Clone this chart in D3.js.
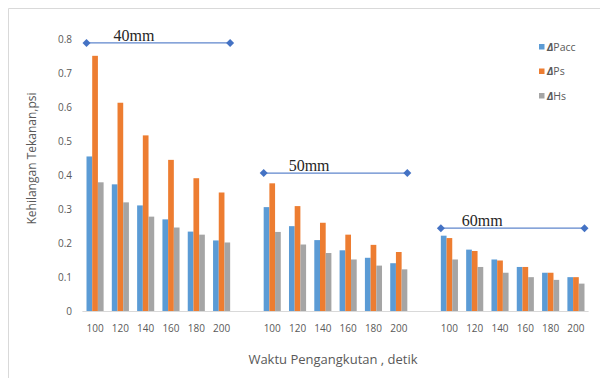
<!DOCTYPE html>
<html>
<head>
<meta charset="utf-8">
<script src="https://cdn.jsdelivr.net/npm/d3@7/dist/d3.min.js"></script>
<style>
  html, body { margin: 0; padding: 0; background: #fff; }
  svg { display: block; }
</style>
</head>
<body>
<svg id="chart" width="600" height="378"></svg>
<script>
// Transport time (s) on the x axis, repeated for each pipe diameter
const times = ["100", "120", "140", "160", "180", "200"];
const diameters = ["40mm", "50mm", "60mm"];
const seriesNames = ["Pacc", "Ps", "Hs"];
const seriesColors = ["#5B9BD5", "#ED7D31", "#A5A5A5"];

// Pressure loss (psi) per diameter, one value per transport time
const pacc = [
  [0.456, 0.374, 0.312, 0.271, 0.235, 0.209],
  [0.307, 0.251, 0.210, 0.180, 0.158, 0.142],
  [0.223, 0.182, 0.153, 0.131, 0.114, 0.101]
];
const ps = [
  [0.752, 0.614, 0.518, 0.446, 0.392, 0.350],
  [0.377, 0.310, 0.261, 0.226, 0.196, 0.175],
  [0.216, 0.178, 0.150, 0.131, 0.114, 0.101]
];
const hs = [
  [0.380, 0.321, 0.279, 0.247, 0.226, 0.203],
  [0.234, 0.197, 0.172, 0.153, 0.135, 0.124],
  [0.153, 0.131, 0.114, 0.101, 0.093, 0.082]
];
// Height of the bracket line marking each diameter group
const bracketLevels = [0.79, 0.407, 0.245];
const yTicks = [0, 0.1, 0.2, 0.3, 0.4, 0.5, 0.6, 0.7, 0.8];

const svg = d3.select("#chart");
const tickFont = "'Open Sans', sans-serif";
const textGray = "#595959";

// Chart frame
svg.append("path")
  .attr("d", "M8.5,378 V8.5 H600")
  .attr("fill", "none")
  .attr("stroke", "#d9d9d9")
  .attr("stroke-width", 1);

// Slots: six times per diameter, with an empty slot between diameters
const slots = [];
diameters.forEach((d, i) => {
  times.forEach((t, j) => slots.push({ key: d + "-" + t, group: i, idx: j, label: t }));
  if (i < diameters.length - 1) slots.push({ key: "gap" + i, gap: true });
});

const x = d3.scaleBand()
  .domain(slots.map(s => s.key))
  .range([82.4, 588.6])
  .padding(0);

const xs = d3.scaleBand()
  .domain(seriesNames)
  .range([0, x.bandwidth()])
  .paddingInner(0)
  .paddingOuter(0.72);

const y = d3.scaleLinear().domain([0, 0.8]).range([311.5, 39.5]);

const valuesBySeries = { Pacc: pacc, Ps: ps, Hs: hs };

// Bars
const bars = [];
slots.filter(s => !s.gap).forEach(s => {
  seriesNames.forEach((name, k) => {
    bars.push({ slot: s.key, series: name, color: seriesColors[k], value: valuesBySeries[name][s.group][s.idx] });
  });
});

svg.append("g").selectAll("rect")
  .data(bars)
  .join("rect")
  .attr("x", d => x(d.slot) + xs(d.series))
  .attr("y", d => y(d.value))
  .attr("width", xs.bandwidth())
  .attr("height", d => y(0) - y(d.value))
  .attr("fill", d => d.color);

// Baseline
svg.append("line")
  .attr("x1", x.range()[0]).attr("x2", x.range()[1])
  .attr("y1", y(0)).attr("y2", y(0))
  .attr("stroke", "#d9d9d9").attr("stroke-width", 1);

// Y axis tick labels
const yAxis = d3.axisLeft(y).tickValues(yTicks)
  .tickFormat(d => d === 0 ? "0" : d3.format(".1f")(d))
  .tickSize(0).tickPadding(0);
const yg = svg.append("g").attr("transform", "translate(72,0)").call(yAxis);
yg.select(".domain").remove();
yg.selectAll("text")
  .attr("fill", textGray)
  .style("font-family", tickFont)
  .style("font-size", "10px");

// X axis tick labels
const xAxis = d3.axisBottom(x)
  .tickValues(slots.filter(s => !s.gap).map(s => s.key))
  .tickFormat(k => slots.find(s => s.key === k).label)
  .tickSize(0).tickPadding(0);
const xg = svg.append("g").attr("transform", "translate(0,325)").call(xAxis);
xg.select(".domain").remove();
xg.selectAll("text")
  .attr("fill", textGray)
  .style("font-family", tickFont)
  .style("font-size", "10px");

// Diameter brackets with diamond ends
const bracketColor = "#4472C4";
diameters.forEach((d, i) => {
  const first = x(d + "-" + times[0]) + xs(seriesNames[0]);
  const last = x(d + "-" + times[times.length - 1]) + xs(seriesNames[2]) + xs.bandwidth();
  const yy = y(bracketLevels[i]);
  const g = svg.append("g");
  g.append("line")
    .attr("x1", first).attr("x2", last)
    .attr("y1", yy).attr("y2", yy)
    .attr("stroke", bracketColor).attr("stroke-width", 1.3).attr("opacity", 0.85);
  g.selectAll("path.end")
    .data([first, last])
    .join("path")
    .attr("class", "end")
    .attr("transform", px => `translate(${px},${yy})`)
    .attr("d", "M0,-4 L4,0 L0,4 L-4,0 Z")
    .attr("fill", bracketColor);
  g.append("text")
    .attr("x", first + (i === 0 ? 27 : i === 1 ? 25 : 21))
    .attr("y", yy - 2)
    .attr("fill", "#262626")
    .style("font-family", "'Liberation Serif', 'Times New Roman', serif")
    .style("font-size", "16px")
    .text(d);
});

// Axis titles
svg.append("text")
  .attr("x", 333).attr("y", 364)
  .attr("text-anchor", "middle")
  .attr("fill", textGray)
  .style("font-family", tickFont)
  .style("font-size", "13px")
  .text("Waktu Pengangkutan , detik");

svg.append("text")
  .attr("transform", "translate(36,158.5) rotate(-90)")
  .attr("text-anchor", "middle")
  .attr("fill", textGray)
  .style("font-family", tickFont)
  .style("font-size", "12px")
  .text("Kehilangan Tekanan,psi");

// Legend
const legend = svg.append("g").attr("transform", "translate(539,44)");
seriesNames.forEach((name, k) => {
  const row = legend.append("g").attr("transform", `translate(0,${k * 24.5})`);
  row.append("rect").attr("width", 5.5).attr("height", 5.5).attr("fill", seriesColors[k]);
  const t = row.append("text")
    .attr("x", 8).attr("y", 6.5)
    .attr("fill", textGray)
    .style("font-family", tickFont)
    .style("font-size", "10.5px");
  t.append("tspan").style("font-weight", "bold").style("font-style", "italic").text("Δ");
  t.append("tspan").text(name);
});
</script>
</body>
</html>
